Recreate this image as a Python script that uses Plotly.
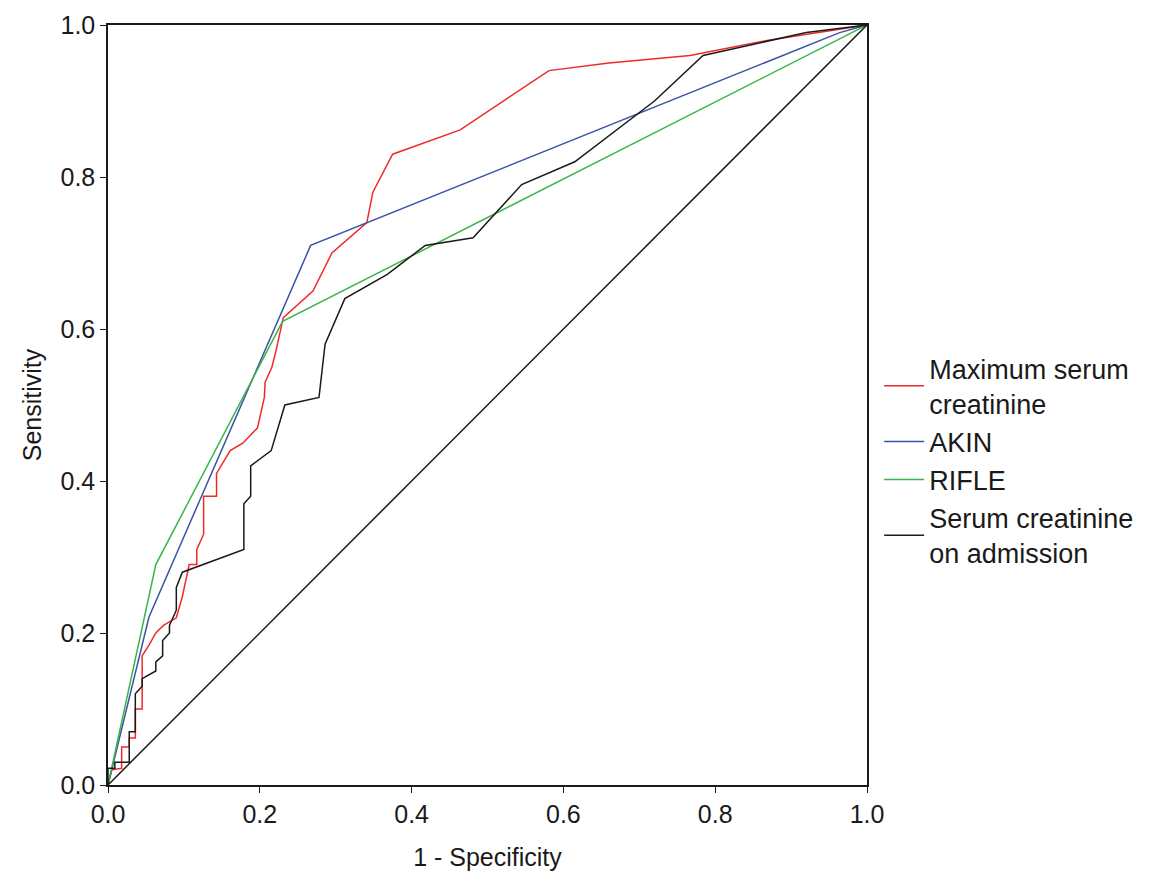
import plotly.graph_objects as go

max_scr_x = [0, 0.005, 0.018, 0.018, 0.028, 0.028, 0.036, 0.036, 0.045, 0.045, 0.054, 0.063, 0.073, 0.09, 0.098, 0.107, 0.117, 0.117, 0.126, 0.126, 0.143, 0.143, 0.161, 0.178, 0.197, 0.206, 0.207, 0.216, 0.221, 0.231, 0.27, 0.295, 0.341, 0.349, 0.375, 0.464, 0.581, 0.66, 0.767, 0.87, 1.0]
max_scr_y = [0, 0.02, 0.022, 0.05, 0.05, 0.062, 0.062, 0.10, 0.10, 0.17, 0.184, 0.20, 0.21, 0.22, 0.248, 0.29, 0.29, 0.31, 0.33, 0.38, 0.38, 0.41, 0.44, 0.45, 0.47, 0.51, 0.53, 0.55, 0.57, 0.615, 0.65, 0.70, 0.74, 0.78, 0.83, 0.862, 0.94, 0.95, 0.96, 0.98, 1.0]

akin_x = [0, 0.054, 0.267, 0.964, 1.0]
akin_y = [0, 0.221, 0.71, 0.99, 1.0]

rifle_x = [0, 0.063, 0.23, 1.0]
rifle_y = [0, 0.29, 0.61, 1.0]

adm_x = [0, 0, 0.009, 0.009, 0.028, 0.028, 0.036, 0.036, 0.045, 0.045, 0.063, 0.063, 0.072, 0.072, 0.081, 0.081, 0.09, 0.09, 0.098, 0.179, 0.179, 0.188, 0.188, 0.215, 0.233, 0.278, 0.286, 0.312, 0.368, 0.418, 0.481, 0.545, 0.615, 0.72, 0.784, 0.92, 1.0]
adm_y = [0, 0.022, 0.022, 0.03, 0.03, 0.07, 0.07, 0.12, 0.13, 0.14, 0.15, 0.162, 0.17, 0.19, 0.20, 0.21, 0.23, 0.26, 0.28, 0.31, 0.37, 0.38, 0.42, 0.44, 0.50, 0.51, 0.58, 0.64, 0.672, 0.71, 0.72, 0.79, 0.82, 0.90, 0.96, 0.99, 1.0]

ref_x = [0, 1]
ref_y = [0, 1]

fig = go.Figure()
fig.add_trace(go.Scatter(x=max_scr_x, y=max_scr_y, mode="lines", name="Maximum serum<br>creatinine",
                         line=dict(color="#ee2a2a", width=1.5)))
fig.add_trace(go.Scatter(x=akin_x, y=akin_y, mode="lines", name="AKIN",
                         line=dict(color="#3a53a4", width=1.5)))
fig.add_trace(go.Scatter(x=rifle_x, y=rifle_y, mode="lines", name="RIFLE",
                         line=dict(color="#39b54a", width=1.5)))
fig.add_trace(go.Scatter(x=adm_x, y=adm_y, mode="lines", name="Serum creatinine<br>on admission",
                         line=dict(color="#1a1a1a", width=1.5)))
fig.add_trace(go.Scatter(x=ref_x, y=ref_y, mode="lines", showlegend=False,
                         line=dict(color="#1a1a1a", width=1.5)))

axis_common = dict(range=[0, 1], tickvals=[0, 0.2, 0.4, 0.6, 0.8, 1.0], tickformat=".1f",
                   showgrid=False, zeroline=False, showline=True, linecolor="#1a1a1a",
                   linewidth=1.5, mirror=True, ticks="outside", ticklen=6, automargin=False,
                   tickcolor="#1a1a1a", tickfont=dict(size=25, color="#1a1a1a"))
fig.update_xaxes(title=dict(text="1 - Specificity", font=dict(size=25, color="#1a1a1a"), standoff=22),
                 **axis_common)
fig.update_yaxes(title=dict(text="Sensitivity", font=dict(size=25, color="#1a1a1a"), standoff=12),
                 **axis_common)
fig.update_layout(
    width=1151, height=875,
    margin=dict(l=100, r=292, t=17, b=98),
    plot_bgcolor="white", paper_bgcolor="white",
    font=dict(family="Liberation Sans, Arial, sans-serif", color="#1a1a1a"),
    legend=dict(x=1.016, y=0.58, xanchor="left", yanchor="top",
                font=dict(size=27, color="#1a1a1a"), itemwidth=40, tracegroupgap=0),
)
fig.write_html("out.html")
